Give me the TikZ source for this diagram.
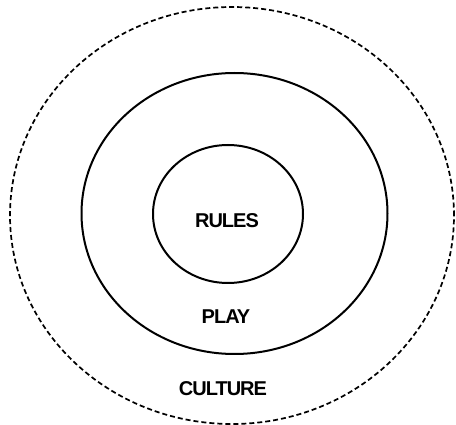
\documentclass[tikz,border=0pt]{standalone}
\usepackage{fontspec}
\setmainfont{Liberation Sans}
\newfontfamily\labelfont[LetterSpace=-5]{Liberation Sans}
\usetikzlibrary{shapes.geometric, positioning}
\tikzset{
  ring/.style={ellipse, draw, line width=2pt, inner sep=0pt},
  dring/.style={ellipse, draw, line width=1.7pt, inner sep=0pt, dash pattern=on 5pt off 3pt},
  lbl/.style={font=\labelfont\fontsize{20}{22}\selectfont\bfseries, inner sep=0pt}
}
\begin{document}
\begin{tikzpicture}[x=1pt,y=-1pt]
  \useasboundingbox (0,0) rectangle (456,425);
  \node[dring, minimum width=444pt, minimum height=417pt] (culturering) at (232,215.5) {};
  \node[ring, minimum width=306pt, minimum height=281pt] (playring) at (234.5,213.5) {};
  \node[ring, minimum width=150pt, minimum height=138pt] (rulesring) at (228,214) {};
  \node[lbl] (rules) at (227,221) {RULES};
  \node[lbl] (play) at (226,317) {PLAY};
  \node[lbl] (culture) at (223,389) {CULTURE};
\end{tikzpicture}
\end{document}
